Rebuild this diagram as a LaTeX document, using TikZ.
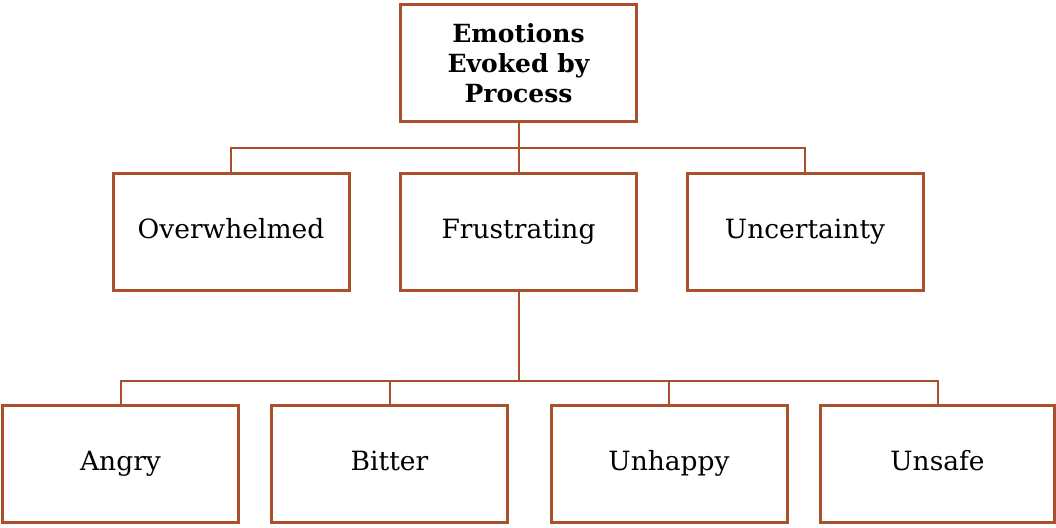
\documentclass[tikz,border=0pt]{standalone}
\usepackage{fontspec}
\setmainfont{DejaVu Serif}
\definecolor{boxbrown}{RGB}{170,80,45}
\tikzset{
  frame/.style={draw=boxbrown, line width=3pt, fill=white, minimum width=236pt, minimum height=117pt, align=center, inner sep=0pt},
  box/.style={frame, font=\fontsize{26.5}{30}\selectfont, text height=19pt, text depth=6pt},
  topbox/.style={frame, font=\bfseries\fontsize{25}{30}\selectfont},
  link/.style={draw=boxbrown, line width=2pt}
}
\begin{document}
\begin{tikzpicture}[x=1pt,y=1pt]
            \useasboundingbox (0,0) rectangle (1056,-527);
            % Boxes
            \node[topbox] (top) at (518.5,-63) {Emotions\\Evoked by\\Process};
            \node[box] (over) at (231,-231.5) {Overwhelmed};
            \node[box] (frust) at (518.5,-231.5) {Frustrating};
            \node[box] (uncert) at (805,-231.5) {Uncertainty};
            \node[box] (angry) at (120.5,-464) {Angry};
            \node[box] (bitter) at (389.5,-464) {Bitter};
            \node[box] (unhappy) at (669,-464) {Unhappy};
            \node[box, minimum width=234pt] (unsafe) at (937.5,-464) {Unsafe};
            % Lines
            \draw[link] (top.south) -- ++(0,-25) coordinate (j1);
            \draw[link] (j1) -| (over.north);
            \draw[link] (j1) -| (uncert.north);
            \draw[link] (j1) -- (frust.north);
            \draw[link] (frust.south) -- ++(0,-89) coordinate (j2);
            \draw[link] (j2) -| (angry.north);
            \draw[link] (j2) -| (bitter.north);
            \draw[link] (j2) -| (unhappy.north);
            \draw[link] (j2) -| (unsafe.north);
        \end{tikzpicture}
\end{document}
